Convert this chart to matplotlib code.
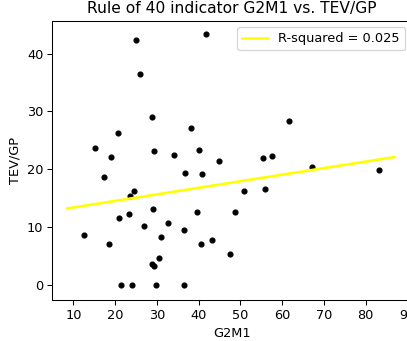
import numpy as np
import matplotlib
matplotlib.use('Agg')
import matplotlib.pyplot as plt

g2m1 = [25.0, 41.7, 25.9, 28.7, 20.7, 38.2, 15.2, 18.9, 29.4, 34.0,
        40.1, 44.8, 61.6, 55.5, 57.6, 67.2, 83.3, 17.3, 36.7, 40.8,
        23.5, 24.5, 21.0, 23.2, 29.0, 39.5, 26.9, 32.7, 36.5, 12.6,
        30.9, 18.6, 40.5, 43.2, 30.6, 28.9, 29.4, 21.3, 24.1, 29.7,
        36.5, 50.8, 55.9, 48.7, 47.5]
tev_gp = [42.3, 43.4, 36.5, 29.0, 26.3, 27.2, 23.6, 22.1, 23.1, 22.5,
          23.4, 21.4, 28.3, 22.0, 22.3, 20.3, 19.8, 18.7, 19.4, 19.1,
          15.4, 16.2, 11.5, 12.2, 13.1, 12.6, 10.2, 10.7, 9.5, 8.6,
          8.2, 7.1, 7.1, 7.7, 4.6, 3.5, 3.2, 0.0, 0.0, 0.0,
          0.0, 16.2, 16.6, 12.6, 5.3]

# regression line
fit_x = [8.5, 86.9]
fit_y = [13.2, 22.1]
r_squared = 0.025

dpi = 93
fig = plt.figure(figsize=(408 / dpi, 341 / dpi), dpi=dpi)
ax = fig.add_axes([52.3 / 408, 41 / 341, (411.6 - 52.3) / 408, (320.3 - 41) / 341])

ax.scatter(g2m1, tev_gp, s=14, color='black')
ax.plot(fit_x, fit_y, color='yellow', linewidth=2, label=f'R-squared = {r_squared}')

ax.set_xlim(4.93, 91.0)
ax.set_ylim(-2.65, 45.7)
ax.set_xticks(np.arange(10, 100, 10))
ax.set_yticks(np.arange(0, 50, 10))
ax.set_xlabel('G2M1')
ax.set_ylabel('TEV/GP')
ax.set_title('Rule of 40 indicator G2M1 vs. TEV/GP')
ax.legend(loc='upper right')

fig.savefig('out.png', dpi=dpi)
